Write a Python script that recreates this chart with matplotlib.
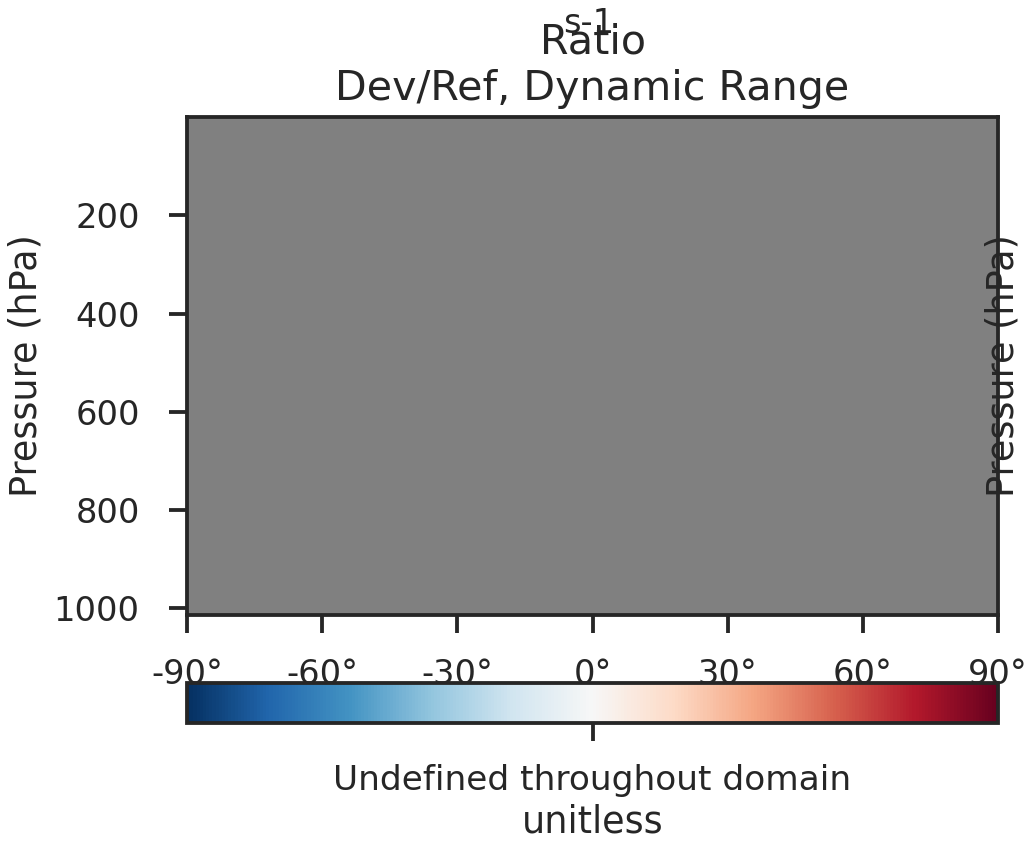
import numpy as np
import matplotlib
matplotlib.use("Agg")
import matplotlib.pyplot as plt
import seaborn as sns

sns.set_theme(style="ticks", context="poster")
plt.rcParams['font.family'] = ['DejaVu Sans']

# ---- data ----
lat_edges = [-90, -60, -30, 0, 30, 60, 90]
pres_edges = [1013.25, 800, 600, 400, 200, 0.01]
lat_ticks = [-90, -60, -30, 0, 30, 60, 90]
lat_tick_labels = ["-90°", "-60°", "-30°", "0°", "30°", "60°", "90°"]
pres_ticks = [200, 400, 600, 800, 1000]
# Ratio Dev/Ref is undefined (NaN) everywhere
ratio_values = np.full((len(pres_edges) - 1, len(lat_edges) - 1), np.nan)

title_text = "Ratio\nDev/Ref, Dynamic Range"
units_text = "s-1"
cbar_tick_text = "Undefined throughout domain"
cbar_label = "unitless"

DPI = 110
fig = plt.figure(figsize=(1028 / DPI, 842 / DPI), dpi=DPI)

ax = fig.add_axes([187 / 1028, 1 - 615 / 842, 811 / 1028, 498 / 842])
cax = fig.add_axes([187 / 1028, 1 - 723 / 842, 811 / 1028, 40 / 842])

cmap = plt.get_cmap("RdBu_r").copy()
cmap.set_bad("gray")
ax.set_facecolor("gray")
mesh = ax.pcolormesh(lat_edges, pres_edges, np.ma.masked_invalid(ratio_values),
                     cmap=cmap, vmin=-1, vmax=1)
ax.set_xlim(-90, 90)
ax.set_ylim(1013.25, 0.01)
ax.set_xticks(lat_ticks)
ax.set_xticklabels(lat_tick_labels, fontsize=22)
ax.set_yticks(pres_ticks)
ax.set_yticklabels([str(p) for p in pres_ticks], fontsize=22)
ax.tick_params(axis="y", pad=19)
ax.tick_params(axis="x", pad=16)
ax.set_ylabel("Pressure (hPa)", fontsize=24, labelpad=6)
ax.set_title(title_text, fontsize=27, pad=11, linespacing=1.2)

fig.text(589 / 1028, 1 - 33 / 842, units_text, fontsize=22, ha="center",
         va="baseline", color=".15")
fig.text(1003 / 1028, 1 - 366 / 842, "Pressure (hPa)", fontsize=24,
         rotation=90, ha="center", va="center", color=".15")

cb = fig.colorbar(mesh, cax=cax, orientation="horizontal")
cb.set_ticks([0.0])
cb.ax.set_xticklabels([cbar_tick_text], fontsize=22.5)
cb.ax.tick_params(axis="x", pad=15)
cb.set_label(cbar_label, fontsize=24)

fig.savefig("out.png", dpi=DPI)
